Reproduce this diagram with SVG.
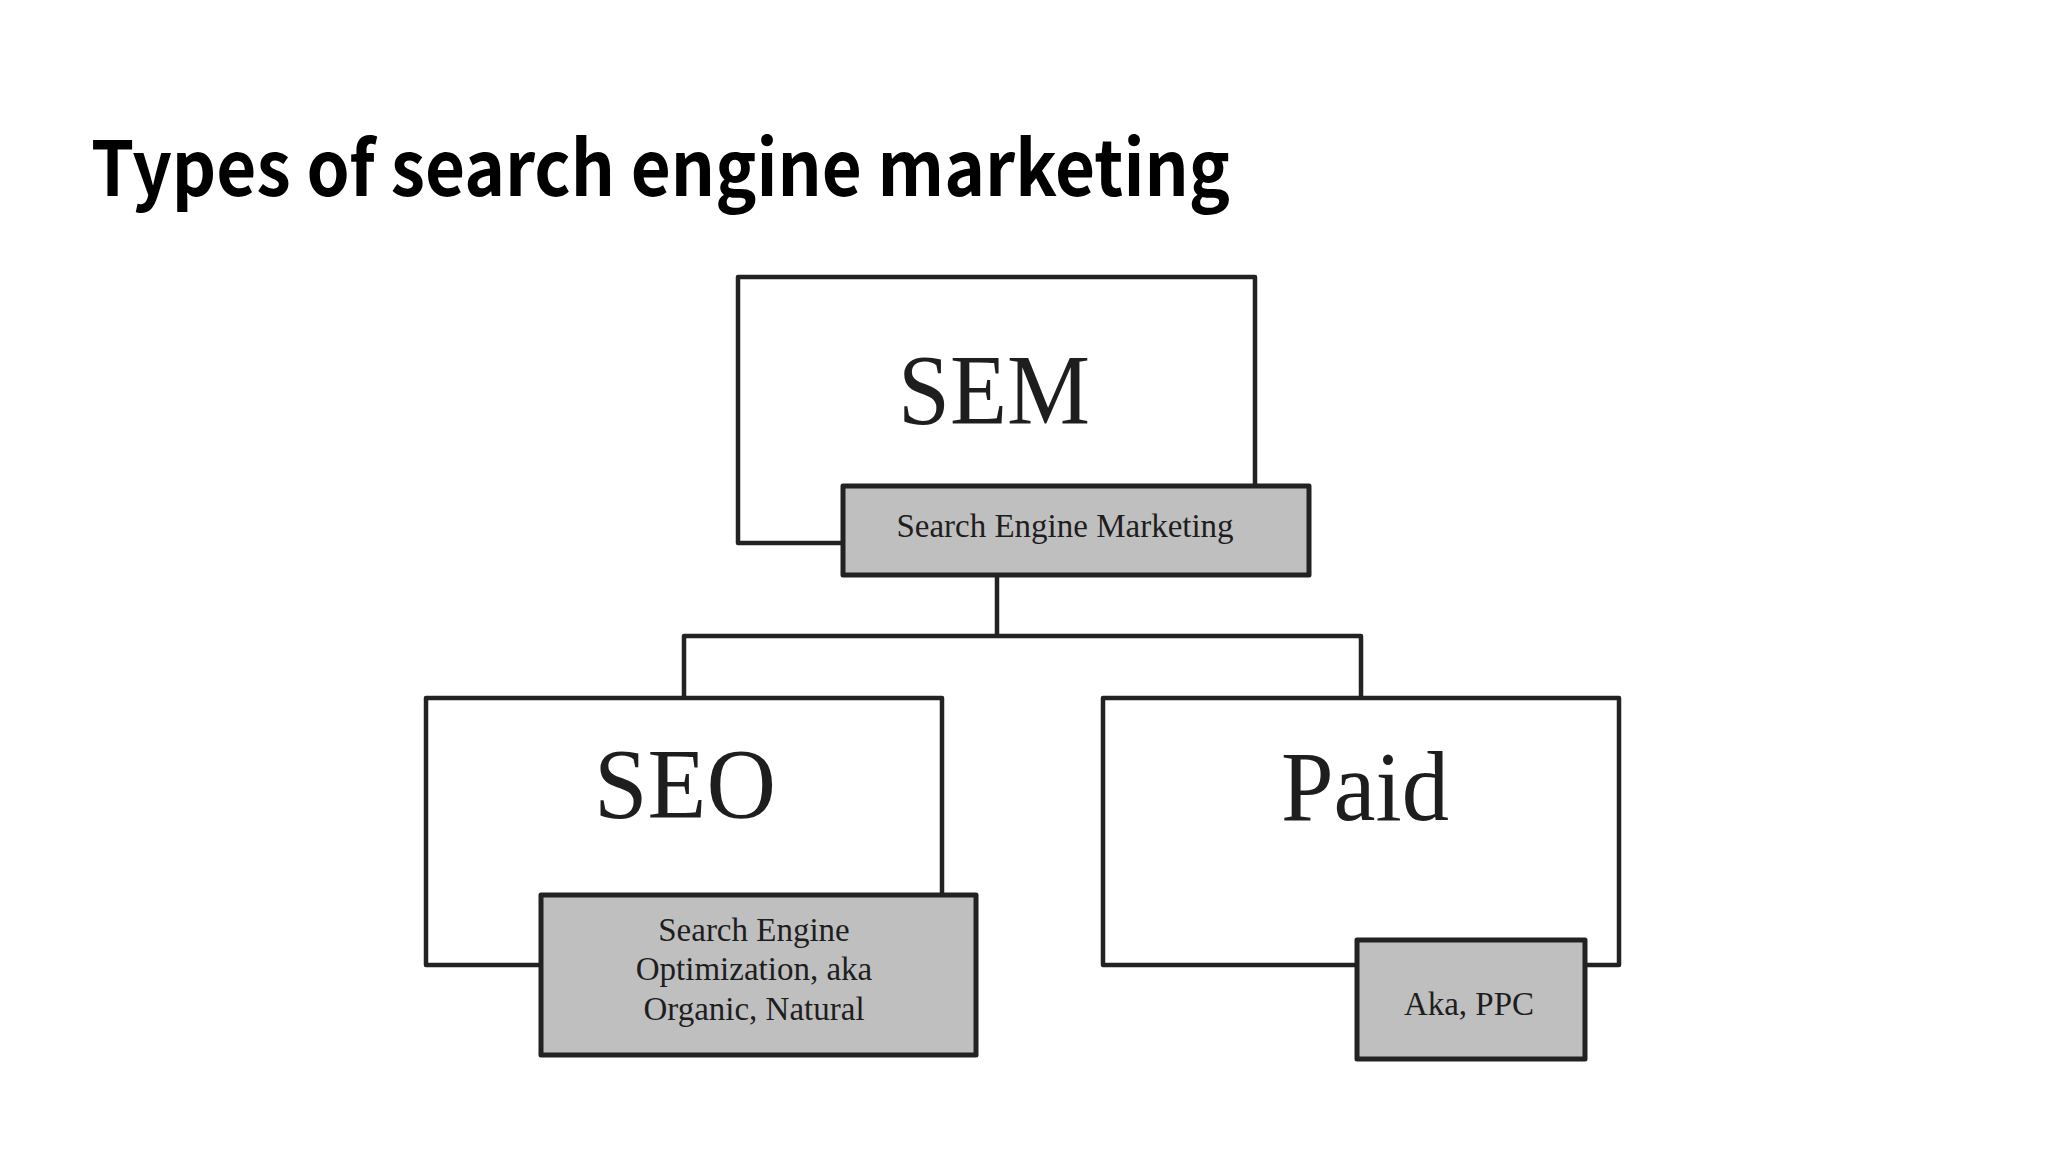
<svg xmlns="http://www.w3.org/2000/svg" width="2048" height="1152" viewBox="0 0 2048 1152">
<style>
.box{fill:#ffffff;stroke:#222222;stroke-width:4.5;stroke-linejoin:round}
.lbl{fill:#c0bfc0;stroke:#222222;stroke-width:5;stroke-linejoin:round}
.big{font-family:"Liberation Serif","Times New Roman",serif;font-size:100px;fill:#1e1e1e;text-anchor:middle}
.small{font-family:"Liberation Serif","Times New Roman",serif;font-size:33px;fill:#1e1e1e;text-anchor:middle}
.conn{fill:none;stroke:#222222;stroke-width:4.5;stroke-linejoin:round}
.title{font-family:"Noto Sans CJK SC","Source Sans Pro","Noto Sans",sans-serif;font-weight:700;font-size:76px;fill:#000000}
</style>
<rect width="2048" height="1152" fill="#ffffff"/>
<text class="title" x="91" y="196" textLength="1139" lengthAdjust="spacingAndGlyphs">Types of search engine marketing</text>
<g id="connectors">
<path class="conn" d="M997 575 V636 M684 697 V636 H1361 V697"/>
</g>
<g id="sem">
<rect class="box" x="738" y="277" width="517" height="266"/>
<text class="big" x="994" y="423" textLength="192" lengthAdjust="spacingAndGlyphs">SEM</text>
<rect class="lbl" x="843" y="486" width="466" height="89"/>
<text class="small" x="1065" y="537">Search Engine Marketing</text>
</g>
<g id="seo">
<rect class="box" x="426" y="698" width="516" height="267"/>
<text class="big" x="685" y="817" textLength="182" lengthAdjust="spacingAndGlyphs">SEO</text>
<rect class="lbl" x="541" y="895" width="435" height="160"/>
<text class="small" x="754" y="941">Search Engine</text>
<text class="small" x="754" y="980">Optimization, aka</text>
<text class="small" x="754" y="1020">Organic, Natural</text>
</g>
<g id="paid">
<rect class="box" x="1103" y="698" width="516" height="267"/>
<text class="big" x="1365" y="820" textLength="168" lengthAdjust="spacingAndGlyphs">Paid</text>
<rect class="lbl" x="1357" y="940" width="228" height="119"/>
<text class="small" x="1469" y="1015">Aka, PPC</text>
</g>
</svg>
